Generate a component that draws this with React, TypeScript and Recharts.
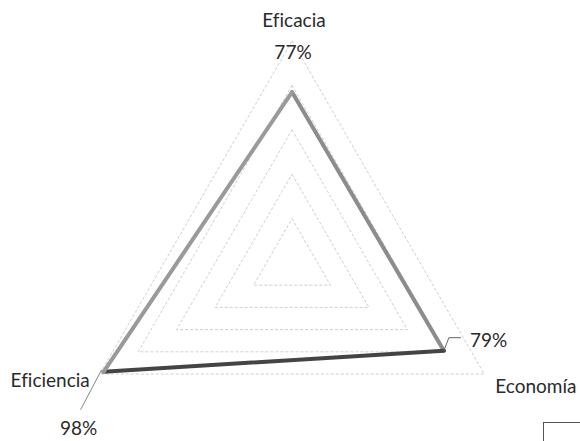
import React from "react";
import { RadarChart, Radar, PolarGrid, PolarAngleAxis, PolarRadiusAxis } from "recharts";

const categories = ["Eficacia", "Economía", "Eficiencia"];
const values = [77, 79, 98];
const valueLabels = ["77%", "79%", "98%"];

const data = categories.map((c, i) => ({ name: c, value: values[i], label: valueLabels[i] }));

const CX = 292;
const CY = 263;
const R = 222;
const FONT = "Lato, 'Open Sans', sans-serif";
const FS = 19;
const TXT_STYLE = { fontVariantLigatures: "none" as const };

const AngleTick = (props: any) => {
  const { payload, index } = props;
  const ang = ((payload.coordinate ?? 90) * Math.PI) / 180;
  const vx = CX + R * Math.cos(ang);
  const vy = CY - R * Math.sin(ang);
  let x = vx, y = vy, anchor = "middle";
  if (index === 0) { x = vx + 2; y = vy - 22; }
  else if (index === 1) { x = vx + 11; y = vy + 11; anchor = "start"; }
  else { x = vx - 10; y = vy + 5; anchor = "end"; }
  return (
    <text x={x} y={y} textAnchor={anchor} dominantBaseline="central" fill="#2a2a2a" fontSize={FS} fontFamily={FONT} style={TXT_STYLE}>
      {payload.value}
    </text>
  );
};

const ValueLabel = (props: any) => {
  const { x, y, index } = props;
  const txt = valueLabels[index];
  if (index === 0) {
    return (
      <text x={x + 1} y={y - 41} textAnchor="middle" dominantBaseline="central" fill="#2a2a2a" fontSize={FS} fontFamily={FONT}>{txt}</text>
    );
  }
  if (index === 1) {
    return (
      <g>
        <polyline points={`${x},${y} ${x + 5},${y - 13} ${x + 17},${y - 13}`} fill="none" stroke="#666" strokeWidth={1} />
        <text x={x + 26} y={y - 11} textAnchor="start" dominantBaseline="central" fill="#2a2a2a" fontSize={FS} fontFamily={FONT}>{txt}</text>
      </g>
    );
  }
  return (
    <g>
      <line x1={x - 2} y1={y - 2} x2={x - 23} y2={y + 38} stroke="#888" strokeWidth={1} />
      <text x={x - 25} y={y + 56} textAnchor="middle" dominantBaseline="central" fill="#2a2a2a" fontSize={FS} fontFamily={FONT}>{txt}</text>
    </g>
  );
};

const RadarShape = (props: any) => {
  const pts = props.points || [];
  if (pts.length < 3) return null;
  const colors = ["#8c8c8c", "#444444", "#9a9a9a"];
  return (
    <g>
      {pts.map((p: any, i: number) => {
        const q = pts[(i + 1) % pts.length];
        return <line key={i} x1={p.x} y1={p.y} x2={q.x} y2={q.y} stroke={colors[i]} strokeWidth={4} strokeLinecap="round" />;
      })}
    </g>
  );
};

export default function App() {
  return (
    <div style={{ position: "absolute", left: 0, top: 0, width: 580, height: 441, background: "#fff", overflow: "hidden" }}>
      <RadarChart width={580} height={441} data={data} cx={CX} cy={CY} outerRadius={R} startAngle={90} endAngle={-270} margin={{ top: 0, right: 0, bottom: 0, left: 0 }}>
        <PolarGrid gridType="polygon" radialLines={false} stroke="#cfcfcf" strokeDasharray="3 2" />
        <PolarRadiusAxis domain={[0, 100]} tickCount={6} tick={false} axisLine={false} />
        <PolarAngleAxis dataKey="name" tick={<AngleTick />} tickLine={false} axisLine={false} />
        <Radar dataKey="value" stroke="#888" fill="none" isAnimationActive={false} shape={<RadarShape />} label={<ValueLabel />} />
      </RadarChart>
      <div style={{ position: "absolute", left: 543, top: 422, width: 40, height: 30, borderTop: "1px solid #555", borderLeft: "1px solid #555" }} />
    </div>
  );
}
